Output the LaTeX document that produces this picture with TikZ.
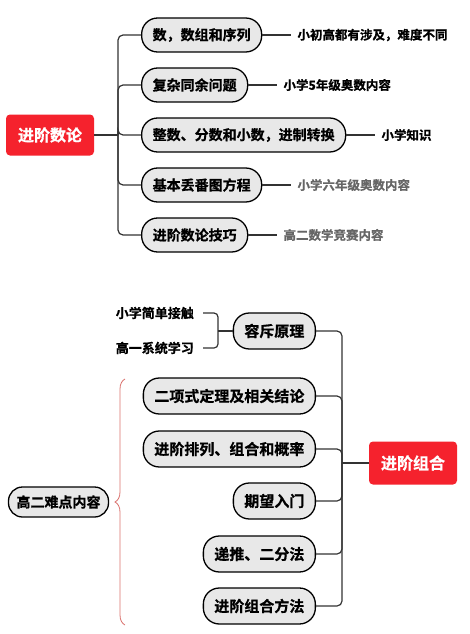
\documentclass[tikz,border=0pt]{standalone}
\usepackage{fontspec}
\usepackage{xcolor}
\usetikzlibrary{decorations.pathreplacing}
\setmainfont{Noto Sans CJK SC}[BoldFont={Noto Sans CJK SC Bold},BoldFeatures={FakeBold=0.8}]
\definecolor{RootRed}{HTML}{F5222D}
\definecolor{PillGray}{HTML}{E8E8E8}
\definecolor{LineGray}{HTML}{333333}
\definecolor{NoteGray}{HTML}{666666}
\definecolor{BraceRed}{HTML}{D9706C}

\begin{document}
\begin{tikzpicture}[x=1pt,y=-1pt,
    root/.style={fill=RootRed,text=white,rounded corners=4pt,minimum height=41pt,
        inner xsep=12pt,font=\fontsize{16}{16}\selectfont\bfseries},
    pill/.style={draw=black,line width=1.3pt,fill=PillGray,rounded corners=16pt,
        minimum height=34pt,inner xsep=11pt,font=\fontsize{14}{14}\selectfont\bfseries},
    note/.style={inner xsep=6pt,font=\fontsize{12.5}{12.5}\selectfont\bfseries},
    link/.style={LineGray,line width=1.2pt}]
    \useasboundingbox (0,0) rectangle (469,634);

    % Number theory tree
    \node[root] (nt) at (50,135) {进阶数论};
    \coordinate (s1) at (118,135);
    \node[pill,anchor=west] (t1) at (141,35) {数，数组和序列};
    \node[pill,anchor=west] (t2) at (141,85) {复杂同余问题};
    \node[pill,anchor=west] (t3) at (141,135) {整数、分数和小数，进制转换};
    \node[pill,anchor=west] (t4) at (141,185) {基本丢番图方程};
    \node[pill,anchor=west] (t5) at (141,235) {进阶数论技巧};
    \draw[link] (nt.east) -- (s1);
    \foreach \n in {t1,t2,t3,t4,t5}
        \draw[link,rounded corners=5pt] (s1) |- (\n.west);

    % notes
    \node[note,anchor=west] (n1) at ([xshift=29pt]t1.east) {小初高都有涉及，难度不同};
    \node[note,anchor=west] (n2) at ([xshift=29pt]t2.east) {小学5年级奥数内容};
    \node[note,anchor=west] (n3) at ([xshift=29pt]t3.east) {小学知识};
    \node[note,anchor=west,text=NoteGray] (n4) at ([xshift=29pt]t4.east) {小学六年级奥数内容};
    \node[note,anchor=west,text=NoteGray] (n5) at ([xshift=29pt]t5.east) {高二数学竞赛内容};
    \foreach \i in {1,...,5}
        \draw[link] (t\i.east) -- (n\i.west);

    % Combinatorics tree
    \node[root,minimum height=43pt] (cb) at (413,463) {进阶组合};
    \coordinate (s2) at (342,463);
    \node[pill,anchor=east,minimum height=36pt,font=\fontsize{15}{15}\selectfont\bfseries] (c1) at (316,331) {容斥原理};
    \node[pill,anchor=east,minimum height=36pt,font=\fontsize{15}{15}\selectfont\bfseries] (c2) at (316,396) {二项式定理及相关结论};
    \node[pill,anchor=east,minimum height=36pt,font=\fontsize{15}{15}\selectfont\bfseries] (c3) at (316,449) {进阶排列、组合和概率};
    \node[pill,anchor=east,minimum height=36pt,font=\fontsize{15}{15}\selectfont\bfseries] (c4) at (316,501) {期望入门};
    \node[pill,anchor=east,minimum height=36pt,font=\fontsize{15}{15}\selectfont\bfseries] (c5) at (316,554) {递推、二分法};
    \node[pill,anchor=east,minimum height=36pt,font=\fontsize{15}{15}\selectfont\bfseries] (c6) at (316,606) {进阶组合方法};
    \draw[link] (s2) -- (cb.west);
    \foreach \n in {c1,c2,c3,c4,c5,c6}
        \draw[link,rounded corners=5pt] (\n.east) -| (s2);

    % inclusion-exclusion side labels
    \node[note,anchor=east,inner xsep=9pt,font=\fontsize{13}{13}\selectfont\bfseries] (l1) at (203,313) {小学简单接触};
    \node[note,anchor=east,inner xsep=9pt,font=\fontsize{13}{13}\selectfont\bfseries] (l2) at (203,348) {高一系统学习};
    \coordinate (j1) at (218,331);
    \draw[link,rounded corners=4pt] (l1.east) -| (j1) |- (l2.east);
    \draw[link] (j1) -- (c1.west);

    % brace to the hard topics
    \coordinate (b1) at (125,625);
    \coordinate (b2) at (125,379);
    \draw[BraceRed,line width=0.8pt,decorate,decoration={brace,amplitude=10pt}] (b1) -- (b2);
    \node[pill,minimum height=30pt,inner xsep=8pt,rounded corners=14pt] (hd) at (58.5,502) {高二难点内容};
\end{tikzpicture}
\end{document}
